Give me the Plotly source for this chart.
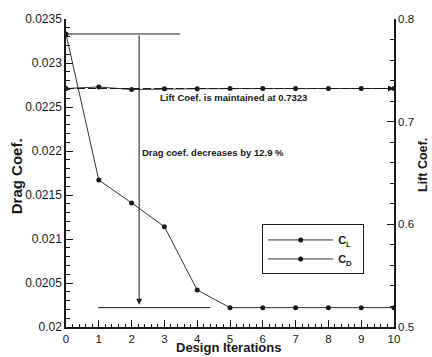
import plotly.graph_objects as go

iterations = [0, 1, 2, 3, 4, 5, 6, 7, 8, 9, 10]
drag_coef = [0.02333, 0.02167, 0.02141, 0.02114, 0.02042, 0.02022,
             0.02022, 0.02022, 0.02022, 0.02022, 0.02022]
lift_coef = [0.7323, 0.7338, 0.7313, 0.7320, 0.7321, 0.7322,
             0.7322, 0.7323, 0.7323, 0.7323, 0.7323]
lift_target = 0.7323

drag_tickvals = [0.02, 0.0205, 0.021, 0.0215, 0.022, 0.0225, 0.023, 0.0235]
drag_ticktext = ["0.02", "0.0205", "0.021", "0.0215", "0.022", "0.0225", "0.023", "0.0235"]
lift_tickvals = [0.5, 0.6, 0.7, 0.8]
lift_ticktext = ["0.5", "0.6", "0.7", "0.8"]
x_tickvals = iterations
x_ticktext = [str(v) for v in iterations]

# annotation guide positions (x in iterations)
arrow_x = 2.23
top_line_x = [0, 3.48]
bottom_line_x = [0.98, 4.39]

FONT = "Liberation Sans, Arial, sans-serif"
INK = "#1a1a1a"

fig = go.Figure()
fig.add_trace(go.Scatter(
    x=iterations, y=lift_coef, yaxis="y2", mode="lines+markers",
    name="<b>C<sub>L</sub></b>\u00a0\u00a0",
    line=dict(color="#333333", width=1),
    marker=dict(symbol="circle", size=5, color=INK),
))
fig.add_trace(go.Scatter(
    x=iterations, y=drag_coef, yaxis="y", mode="lines+markers",
    name="<b>C<sub>D</sub></b>\u00a0\u00a0",
    line=dict(color="#333333", width=1),
    marker=dict(symbol="circle", size=5, color=INK),
))

shapes = [
    dict(type="line", xref="x", yref="y", x0=top_line_x[0], x1=top_line_x[1],
         y0=drag_coef[0], y1=drag_coef[0], line=dict(color=INK, width=1)),
    dict(type="line", xref="x", yref="y", x0=bottom_line_x[0], x1=bottom_line_x[1],
         y0=drag_coef[-1], y1=drag_coef[-1], line=dict(color=INK, width=1)),
    dict(type="line", xref="x", yref="y2", x0=iterations[0], x1=iterations[-1] - 0.15,
         y0=lift_target, y1=lift_target, line=dict(color=INK, width=1, dash="8px,3px")),
]

annotations = [
    dict(x=arrow_x, y=drag_coef[-1], ax=arrow_x, ay=drag_coef[0], xref="x", yref="y",
         axref="x", ayref="y", text="", showarrow=True, arrowhead=2, arrowsize=1.2,
         arrowwidth=1, arrowcolor=INK, standoff=3),
    dict(x=iterations[-1], y=lift_target, ax=iterations[-1] - 0.4, ay=lift_target,
         xref="x", yref="y2", axref="x", ayref="y2", text="", showarrow=True,
         arrowhead=2, arrowsize=1.2, arrowwidth=1, arrowcolor=INK),
    dict(x=2.8, y=0.7235, xref="x", yref="y2", xanchor="left", yanchor="middle",
         text="<b>Lift Coef. is maintained at 0.7323</b>", showarrow=False,
         font=dict(family=FONT, size=9.5, color=INK)),
    dict(x=2.25, y=0.02198, xref="x", yref="y", xanchor="left", yanchor="middle",
         text="<b>Drag coef. decreases by 12.9 %</b>", showarrow=False,
         font=dict(family=FONT, size=9.5, color=INK)),
    dict(x=0.496, y=-0.0828, xref="paper", yref="paper", xanchor="center", yanchor="bottom",
         yshift=-3, borderpad=0,
         text="<b>Design Iterations</b>", showarrow=False,
         font=dict(family=FONT, size=13, color=INK)),
    dict(x=-0.152, y=0.49, xref="paper", yref="paper", xanchor="center", yanchor="middle",
         text="<b>Drag Coef.</b>", textangle=-90, showarrow=False,
         font=dict(family=FONT, size=15, color=INK)),
    dict(x=1.0905, y=0.525, xref="paper", yref="paper", xanchor="center", yanchor="middle",
         text="<b>Lift Coef.</b>", textangle=-90, showarrow=False, borderpad=0,
         font=dict(family=FONT, size=12.5, color=INK)),
]

fig.update_layout(
    width=432, height=357,
    margin=dict(l=66, r=38, t=17, b=26, pad=0),
    paper_bgcolor="white", plot_bgcolor="white",
    font=dict(family=FONT, size=12, color=INK),
    showlegend=True,
    legend=dict(x=0.598, y=0.333, xanchor="left", yanchor="top",
                bgcolor="white", bordercolor=INK, borderwidth=1,
                font=dict(family=FONT, size=11, color=INK),
                itemwidth=65, tracegroupgap=0),
    xaxis=dict(range=[0, 10], tickvals=x_tickvals, ticktext=x_ticktext,
               ticks="inside", ticklen=7, tickwidth=1, tickcolor=INK,
               showline=True, linecolor=INK, linewidth=1.5, showgrid=False,
               zeroline=False, tickfont=dict(size=11.5),
               minor=dict(dtick=0.2, ticks="inside", ticklen=3, tickcolor=INK, showgrid=False)),
    yaxis=dict(range=[0.02, 0.0235], tickvals=drag_tickvals, ticktext=drag_ticktext,
               ticks="inside", ticklen=7, tickwidth=1, tickcolor=INK,
               showline=True, linecolor=INK, linewidth=1.5, showgrid=False,
               zeroline=False, tickfont=dict(size=12),
               minor=dict(dtick=0.0001, tick0=0.02, ticks="inside", ticklen=4,
                          tickcolor=INK, showgrid=False)),
    yaxis2=dict(range=[0.5, 0.8], tickvals=lift_tickvals, ticktext=lift_ticktext,
                overlaying="y", side="right", anchor="x",
                ticks="inside", ticklen=7, tickwidth=1, tickcolor=INK,
                showline=True, linecolor=INK, linewidth=1.5, showgrid=False,
                zeroline=False, tickfont=dict(size=11.5),
                minor=dict(dtick=0.02, tick0=0.5, ticks="inside", ticklen=4,
                           tickcolor=INK, showgrid=False)),
    shapes=shapes,
    annotations=annotations,
)

fig.write_html("out.html")
